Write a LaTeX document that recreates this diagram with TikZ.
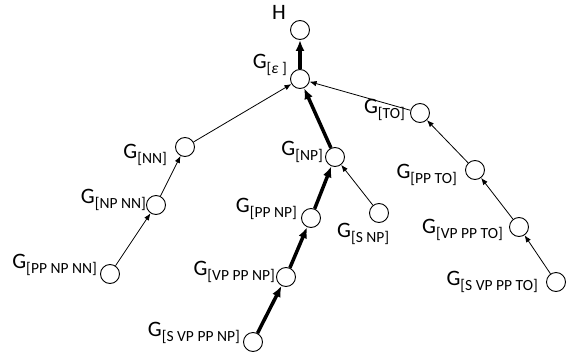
\documentclass[tikz,border=0pt]{standalone}
\usepackage{fontspec}
\setmainfont{Carlito}
\usetikzlibrary{arrows.meta}
\newcommand{\gl}[1]{G\raisebox{-5pt}{\fontsize{15.5}{16}\selectfont #1}}
\tikzset{
  vert/.style={circle,draw,line width=0.9pt,minimum size=19pt,inner sep=0pt,fill=white},
  lab/.style={font=\fontsize{22}{24}\selectfont,inner sep=0pt,anchor=base east},
  thin/.style={line width=0.8pt,-{Latex[length=7pt,width=5.5pt]}},
  thick/.style={line width=3.5pt,-{Latex[length=11pt,width=9pt]}},
}
\begin{document}
\begin{tikzpicture}[x=1pt,y=-1pt]
\useasboundingbox (0,0) rectangle (570,356);
% vertices
\node[vert] (h) at (300,30) {};
\node[vert] (e) at (300,79) {};
\node[vert] (nn) at (185,147) {};
\node[vert] (npnn) at (156,205) {};
\node[vert] (ppnpnn) at (110,274) {};
\node[vert] (np) at (335,157) {};
\node[vert] (snp) at (379,213) {};
\node[vert] (ppnp) at (311,218) {};
\node[vert] (vpppnp) at (286,277) {};
\node[vert] (svpppnp) at (253,342) {};
\node[vert] (to) at (420,113) {};
\node[vert] (ppto) at (475,170) {};
\node[vert] (vpppto) at (519,227) {};
\node[vert] (svpppto) at (556,282) {};
% labels
\node[lab,anchor=base] (lh) at (279,19) {H};
\node[lab] (le) at (287,68) {\gl{[\textit{ε} ]}};
\node[lab] (lnn) at (167,158) {\gl{[NN]}};
\node[lab] (lnpnn) at (146,203) {\gl{[NP NN]}};
\node[lab] (lppnpnn) at (97,268) {\gl{[PP NP NN]}};
\node[lab] (lnp) at (323,155) {\gl{[NP]}};
\node[lab] (lppnp) at (297,212) {\gl{[PP NP]}};
\node[lab] (lvpppnp) at (275,275) {\gl{[VP PP NP]}};
\node[lab] (lsvpppnp) at (240,336) {\gl{[S VP PP NP]}};
\node[lab,anchor=base west] (lsnp) at (337,237) {\gl{[S NP]}};
\node[lab] (lto) at (405,113) {\gl{[TO]}};
\node[lab] (lppto) at (457,178) {\gl{[PP TO]}};
\node[lab] (lvpppto) at (503,233) {\gl{[VP PP TO]}};
\node[lab] (lsvpppto) at (538,285) {\gl{[S VP PP TO]}};
% edges
\draw[thick] (e) -- (h);
\draw[thick] (np) -- (e);
\draw[thick] (ppnp) -- (np);
\draw[thick] (vpppnp) -- (ppnp);
\draw[thick] (svpppnp) -- (vpppnp);
\draw[thin] (nn) -- (e);
\draw[thin] (npnn) -- (nn);
\draw[thin] (ppnpnn) -- (npnn);
\draw[thin] (snp) -- (np);
\draw[thin] (to) -- (e);
\draw[thin] (ppto) -- (to);
\draw[thin] (vpppto) -- (ppto);
\draw[thin] (svpppto) -- (vpppto);
\end{tikzpicture}
\end{document}
